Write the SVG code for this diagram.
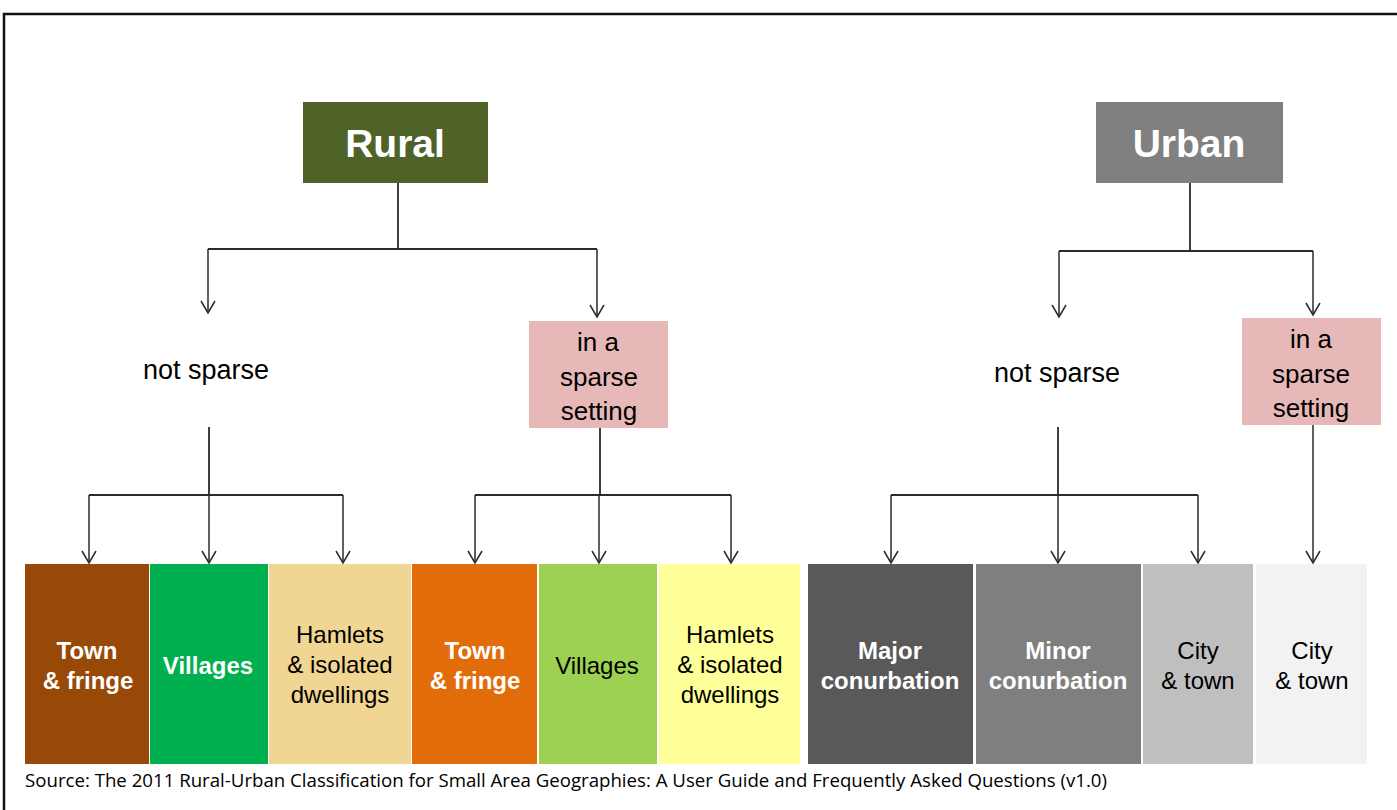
<svg xmlns="http://www.w3.org/2000/svg" width="1397" height="810" viewBox="0 0 1397 810">
<defs>
<marker id="arr" markerWidth="20" markerHeight="20" refX="8" refY="13" markerUnits="userSpaceOnUse" orient="0">
<path d="M1,1 L8,13 L15,1" fill="none" stroke="#2a2a2a" stroke-width="1.5"/>
</marker>
<style>
.frame{stroke:#111;stroke-width:2.5;fill:none}
.con{stroke:#2a2a2a;stroke-width:1.8;fill:none}
.arw{stroke:#2a2a2a;stroke-width:1.5;fill:none;marker-end:url(#arr)}
.t{font-family:"Liberation Sans",Arial,sans-serif;text-anchor:middle}
.head{font-size:39px;font-weight:bold;fill:#fff}
.mid{font-size:26px;fill:#000}
.ns{font-size:27px;fill:#000}
.wb{font-size:24px;font-weight:bold;fill:#fff}
.bk{font-size:24px;fill:#000}
.src{font-family:"Open Sans","Noto Sans",sans-serif;font-size:19px;fill:#000}
</style>
</defs>
<rect width="1397" height="810" fill="#fff"/>
<path class="frame" d="M4,810 L4,14 L1397,14"/>

<g id="connectors">
<path class="con" d="M398,183 V249 M208,249 H597"/>
<path class="arw" d="M208,249 V313"/>
<path class="arw" d="M597,249 V317"/>
<path class="con" d="M209,427 V495 M89,495 H343"/>
<path class="arw" d="M89,495 V563"/>
<path class="arw" d="M209,495 V563"/>
<path class="arw" d="M343,495 V563"/>
<path class="con" d="M600,428 V495 M475,495 H731"/>
<path class="arw" d="M475,495 V563"/>
<path class="arw" d="M599,495 V563"/>
<path class="arw" d="M731,495 V563"/>
<path class="con" d="M1190,183 V251 M1059,251 H1313"/>
<path class="arw" d="M1059,251 V317"/>
<path class="arw" d="M1313,251 V315"/>
<path class="arw" d="M1313,425 V563"/>
<path class="con" d="M1058,427 V495 M891,495 H1198"/>
<path class="arw" d="M891,495 V563"/>
<path class="arw" d="M1058,495 V563"/>
<path class="arw" d="M1198,495 V563"/>
</g>

<g id="rural">
<rect x="303" y="102" width="185" height="81" fill="#4F6228"/>
<text class="t head" x="395" y="157">Rural</text>
</g>
<g id="urban">
<rect x="1096" y="102" width="187" height="81" fill="#808080"/>
<text class="t head" x="1189" y="157">Urban</text>
</g>

<g id="rural-not-sparse">
<text class="t ns" x="206" y="379">not sparse</text>
</g>
<g id="rural-sparse">
<rect x="529" y="321" width="139" height="107" fill="#E6B9B8"/>
<text class="t mid" x="598" y="351">in a</text>
<text class="t mid" x="599" y="386">sparse</text>
<text class="t mid" x="599" y="420">setting</text>
</g>
<g id="urban-not-sparse">
<text class="t ns" x="1057" y="382">not sparse</text>
</g>
<g id="urban-sparse">
<rect x="1242" y="318" width="139" height="107" fill="#E6B9B8"/>
<text class="t mid" x="1311" y="348">in a</text>
<text class="t mid" x="1311" y="383">sparse</text>
<text class="t mid" x="1311" y="417">setting</text>
</g>

<g id="r-town">
<rect x="25" y="564" width="124" height="200" fill="#984807"/>
<text class="t wb" x="87" y="659">Town</text>
<text class="t wb" x="88" y="689">&amp; fringe</text>
</g>
<g id="r-villages">
<rect x="150" y="564" width="118" height="200" fill="#00B050"/>
<text class="t wb" x="208" y="674">Villages</text>
</g>
<g id="r-hamlets">
<rect x="269" y="564" width="142" height="200" fill="#F1D592"/>
<text class="t bk" x="340" y="643">Hamlets</text>
<text class="t bk" x="340" y="673">&amp; isolated</text>
<text class="t bk" x="340" y="703">dwellings</text>
</g>
<g id="s-town">
<rect x="412" y="564" width="125" height="200" fill="#E36C0A"/>
<text class="t wb" x="475" y="659">Town</text>
<text class="t wb" x="475" y="689">&amp; fringe</text>
</g>
<g id="s-villages">
<rect x="539" y="564" width="118" height="200" fill="#9CD152"/>
<text class="t bk" x="597" y="674">Villages</text>
</g>
<g id="s-hamlets">
<rect x="659" y="564" width="141" height="200" fill="#FFFF99"/>
<text class="t bk" x="730" y="643">Hamlets</text>
<text class="t bk" x="730" y="673">&amp; isolated</text>
<text class="t bk" x="730" y="703">dwellings</text>
</g>
<g id="u-major">
<rect x="808" y="564" width="165" height="200" fill="#595959"/>
<text class="t wb" x="890" y="659">Major</text>
<text class="t wb" x="890" y="689">conurbation</text>
</g>
<g id="u-minor">
<rect x="976" y="564" width="165" height="200" fill="#7F7F7F"/>
<text class="t wb" x="1058" y="659">Minor</text>
<text class="t wb" x="1058" y="689">conurbation</text>
</g>
<g id="u-city">
<rect x="1143" y="564" width="110" height="200" fill="#BFBFBF"/>
<text class="t bk" x="1198" y="659">City</text>
<text class="t bk" x="1198" y="689">&amp; town</text>
</g>
<g id="us-city">
<rect x="1256" y="564" width="111" height="200" fill="#F2F2F2"/>
<text class="t bk" x="1312" y="659">City</text>
<text class="t bk" x="1312" y="689">&amp; town</text>
</g>

<text class="src" x="25" y="787" textLength="1082" lengthAdjust="spacingAndGlyphs">Source: The 2011 Rural-Urban Classification for Small Area Geographies: A User Guide and Frequently Asked Questions (v1.0)</text>
</svg>
